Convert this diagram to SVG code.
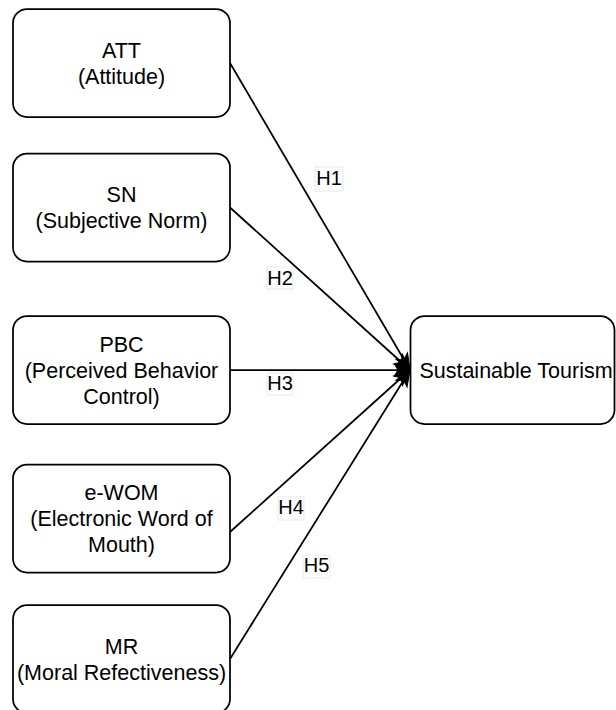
<svg xmlns="http://www.w3.org/2000/svg" width="616" height="710" viewBox="0 0 616 710">
  <style>
    .box { fill: #ffffff; stroke: #000000; stroke-width: 1.75; }
    .txt { font-family: "Liberation Sans", Arial, sans-serif; font-size: 21.5px; fill: #000000; text-anchor: middle; }
    .edge { stroke: #000000; stroke-width: 1.75; fill: none; marker-end: url(#arrow); }
    .lblbg { fill: #ffffff; stroke: #e2e2e2; stroke-width: 0.75; }
    .lbl { font-family: "Liberation Sans", Arial, sans-serif; font-size: 20px; fill: #000000; text-anchor: middle; }
  </style>
  <defs>
    <marker id="arrow" markerUnits="userSpaceOnUse" viewBox="-18 -8 20 16" markerWidth="20" markerHeight="16" refX="0" refY="0" orient="auto">
      <path d="M0,0 L-16,-6.5 L-12,0 L-16,6.5 Z" fill="#000000" stroke="#000000" stroke-width="1"/>
    </marker>
  </defs>

  <g id="connectors">
    <line class="edge" x1="230" y1="63" x2="410" y2="370"/>
    <line class="edge" x1="230" y1="207.5" x2="410" y2="370"/>
    <line class="edge" x1="230" y1="370" x2="410" y2="370"/>
    <line class="edge" x1="230" y1="532" x2="410" y2="370"/>
    <line class="edge" x1="230" y1="659" x2="410" y2="370"/>
    <g id="label-H1">
      <rect class="lblbg" x="315" y="167" width="28" height="24"/>
      <text class="lbl" x="329" y="185">H1</text>
    </g>
    <g id="label-H2">
      <rect class="lblbg" x="267" y="267" width="26" height="22"/>
      <text class="lbl" x="280" y="285">H2</text>
    </g>
    <g id="label-H3">
      <rect class="lblbg" x="267" y="373" width="26" height="22"/>
      <text class="lbl" x="280" y="390">H3</text>
    </g>
    <g id="label-H4">
      <rect class="lblbg" x="278" y="497" width="26" height="23"/>
      <text class="lbl" x="291" y="514">H4</text>
    </g>
    <g id="label-H5">
      <rect class="lblbg" x="303" y="555" width="27" height="23"/>
      <text class="lbl" x="316.5" y="572">H5</text>
    </g>
  </g>

  <g id="node-att">
    <rect class="box" x="13" y="9" width="217" height="108" rx="14" ry="14"/>
    <text class="txt" x="121.5" y="57.5">ATT</text>
    <text class="txt" x="121.5" y="83.5">(Attitude)</text>
  </g>

  <g id="node-sn">
    <rect class="box" x="13" y="153.5" width="217" height="108" rx="14" ry="14"/>
    <text class="txt" x="121.5" y="202">SN</text>
    <text class="txt" x="121.5" y="228">(Subjective Norm)</text>
  </g>

  <g id="node-pbc">
    <rect class="box" x="13" y="316" width="217" height="108" rx="14" ry="14"/>
    <text class="txt" x="121.5" y="351.5">PBC</text>
    <text class="txt" x="121.5" y="377.5">(Perceived Behavior</text>
    <text class="txt" x="121.5" y="403.5">Control)</text>
  </g>

  <g id="node-ewom">
    <rect class="box" x="13" y="464.5" width="217" height="108" rx="14" ry="14"/>
    <text class="txt" x="121.5" y="500">e-WOM</text>
    <text class="txt" x="121.5" y="526">(Electronic Word of</text>
    <text class="txt" x="121.5" y="552">Mouth)</text>
  </g>

  <g id="node-mr">
    <rect class="box" x="13" y="605" width="217" height="108" rx="14" ry="14"/>
    <text class="txt" x="121.5" y="653.5">MR</text>
    <text class="txt" x="121.5" y="679.5">(Moral Refectiveness)</text>
  </g>

  <g id="node-st">
    <rect class="box" x="410.5" y="316" width="204" height="108" rx="14" ry="14"/>
    <text class="txt" x="516" y="377.5">Sustainable Tourism</text>
  </g>
</svg>
